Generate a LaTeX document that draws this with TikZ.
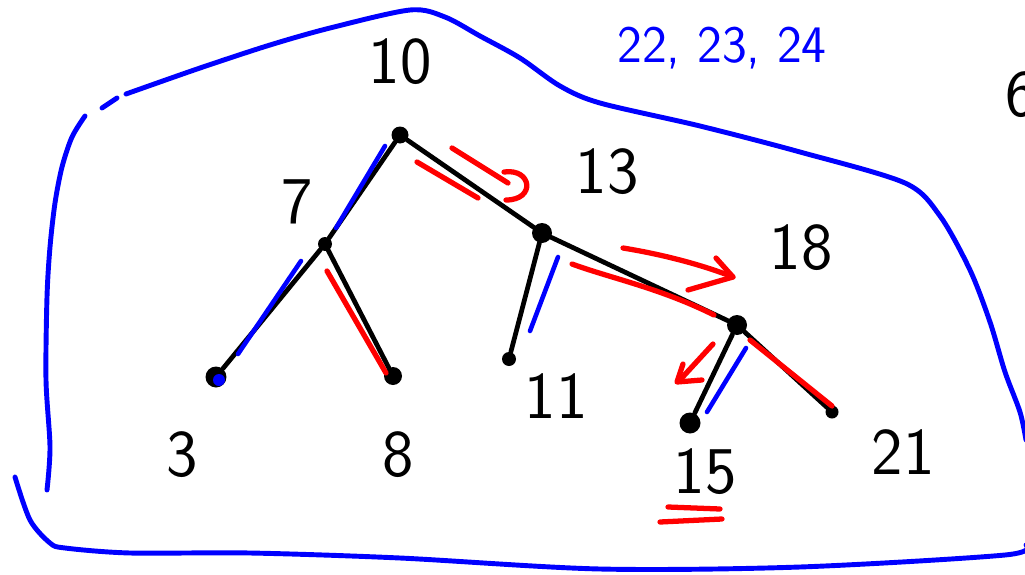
\documentclass[tikz,border=0pt]{standalone}
\usetikzlibrary{arrows.meta}
\begin{document}
\begin{tikzpicture}[x=0.02cm, y=-0.02cm,
  dot/.style={circle, fill=black, inner sep=0pt, minimum size=#1},
  dot/.default=0.34cm,
  branch/.style={line width=2.7pt, line cap=round},
  numlabel/.style={font=\sffamily\fontsize{38}{38}\selectfont},
  hull/.style={blue, line width=2.8pt, line cap=round, line join=round},
  redpen/.style={red, line width=3pt, line cap=round, line join=round},
  bluepen/.style={blue, line width=2.6pt, line cap=round}]

\clip (0,0) rectangle (1025,575);

% tree nodes
\node[dot] (n10) at (400,135) {};
\node[dot=0.28cm] (n7) at (325,244) {};
\node[dot=0.42cm] (n3) at (216,377) {};
\node[dot=0.36cm] (n8) at (393,376) {};
\node[dot=0.4cm] (n13) at (542,233) {};
\node[dot=0.28cm] (n11) at (509,359) {};
\node[dot=0.4cm] (n18) at (737,325) {};
\node[dot=0.42cm] (n15) at (690,423) {};
\node[dot=0.26cm] (n21) at (832,412) {};

% labels
\node[numlabel] (l10) at (400,62) {10};
\node[numlabel] (l7) at (297,202) {7};
\node[numlabel] (l3) at (182,455) {3};
\node[numlabel] (l8) at (398,455) {8};
\node[numlabel] (l13) at (607,172) {13};
\node[numlabel] (l11) at (556,396) {11};
\node[numlabel] (l18) at (801,248) {18};
\node[numlabel] (l15) at (705,472) {15};
\node[numlabel] (l21) at (903,452) {21};
\node[numlabel, blue, font=\sffamily\fontsize{30}{30}\selectfont] (rest) at (722,48) {22, 23, 24};
\node[numlabel] (l6) at (1021,95) {6};

% edges
\draw[branch] (n10) -- (n7);
\draw[branch] (n7) -- (n3);
\draw[branch] (n7) -- (n8);
\draw[branch] (n10) -- (n13);
\draw[branch] (n13) -- (n11);
\draw[branch] (n13) -- (n18);
\draw[branch] (n18) -- (n15);
\draw[branch] (n18) -- (n21);

% blue strokes along the left edges
\draw[bluepen] (385,146) -- (336,228);
\draw[bluepen] (301,261) -- (238,354);
\fill[blue] (219,380) circle (6);
\draw[bluepen] (558,257) -- (530,331);
\draw[bluepen] (746,348) -- (707,412);

% red strokes
\draw[redpen] (417,162) -- (478,198);
\draw[redpen] (452,148) -- (508,183);
\draw[redpen] (504,172) .. controls (532,168) and (536,200) .. (506,200);
\draw[redpen] (623,248) .. controls (660,254) and (700,264) .. (733,277);
\draw[redpen] (716,258) -- (733,277) -- (688,290);
\draw[redpen] (572,264) .. controls (610,278) and (660,288) .. (714,315);
\draw[redpen] (327,271) -- (386,373);
\draw[redpen] (750,340) -- (832,406);
\draw[redpen] (713,344) -- (679,381);
\draw[redpen] (683,364) -- (677,382) -- (702,380);
\draw[redpen] (668,507) -- (720,509);
\draw[redpen] (660,522) -- (722,519);

% blue outline
\draw[hull] plot[smooth, tension=0.5] coordinates {(126,94) (200,68) (270,45) (330,28) (410,10) (445,17) (480,36) (520,58) (560,86) (600,103) (700,126) (800,152) (905,183) (940,216) (970,270) (990,322) (1005,372) (1020,412) (1026,440)};
\draw[hull] (102,108) -- (117,98);
\draw[hull] plot[smooth, tension=0.5] coordinates {(85,116) (72,137) (62,167) (55,203) (50,247) (47,297) (46,380) (50,447) (47,490)};
\draw[hull] plot[smooth, tension=0.5] coordinates {(15,477) (30,520) (50,543) (65,548) (130,553) (250,553) (400,558) (600,569) (800,567) (1005,555) (1026,545)};
\end{tikzpicture}
\end{document}
